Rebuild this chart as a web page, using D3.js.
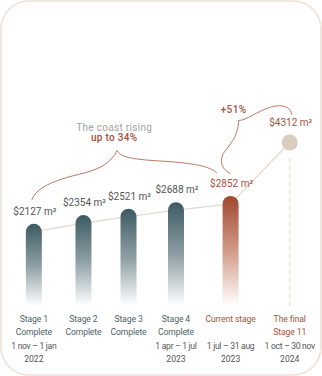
<!DOCTYPE html>
<html>
<head>
<meta charset="utf-8">
<script src="https://cdn.jsdelivr.net/npm/d3@7"></script>
<style>
  html, body { margin: 0; padding: 0; background: #fff; }
  svg { display: block; font-family: Roboto, "Noto Sans", sans-serif; }
</style>
</head>
<body>
<svg id="chart" width="322" height="376"></svg>
<script>
// Price per square metre at each sales stage
const titles  = ["Stage 1", "Stage 2", "Stage 3", "Stage 4", "Current stage", "The final"];
const subs    = ["Complete", "Complete", "Complete", "Complete", "", "Stage 11"];
const periods = ["1 nov – 1 jan", "", "", "1 apr – 1 jul", "1 jul – 31 aug", "1 oct – 30 nov"];
const years   = ["2022", "", "", "2023", "2023", "2024"];
const prices  = [2127, 2354, 2521, 2688, 2852, 4312];
const currentIndex = 4;   // stage on sale now
const forecastIndex = 5;  // projected final stage
const growthNote = ["The coast rising", "up to 34%"];
const forecastNote = "+51%";

const W = 322, H = 376;
const slate = "#4b6168", rust = "#a5513c", grey = "#555555";

const svg = d3.select("#chart");
const defs = svg.append("defs");

// card
svg.append("rect")
  .attr("x", 1).attr("y", 1).attr("width", W - 2).attr("height", H - 2)
  .attr("rx", 28).attr("ry", 28)
  .attr("fill", "#fff").attr("stroke", "#ece2d7").attr("stroke-width", 1.6);

// bar gradients
function gradient(id, top, mid) {
  const g = defs.append("linearGradient").attr("id", id)
    .attr("x1", 0).attr("y1", 0).attr("x2", 0).attr("y2", 1);
  g.append("stop").attr("offset", "0%").attr("stop-color", top);
  g.append("stop").attr("offset", "50%").attr("stop-color", mid);
  g.append("stop").attr("offset", "100%").attr("stop-color", "#ffffff");
}
gradient("gSlate", "#3e5a62", "#8b9ea3");
gradient("gRust", "#a0482f", "#d29a88");

// ---- column layout: each stage column is as wide as its text, spread across the card
const baseY = 306;          // zero line of the value scale
const rowY0 = baseY + 16, rowGap = 13.4;
const colLeft = 11, colRight = 315;

const cols = svg.append("g").attr("class", "stage-labels");
const colGroups = cols.selectAll("g").data(titles).join("g");

colGroups.each(function (t, i) {
  const g = d3.select(this);
  const special = i >= currentIndex;
  const rows = [
    { text: t, fill: special ? rust : slate, ls: -0.1 },
    { text: subs[i], fill: i === forecastIndex ? rust : slate, ls: -0.1 },
    { text: periods[i], fill: grey, ls: -0.3 },
    { text: years[i], fill: grey, ls: 0 }
  ];
  rows.forEach((r, k) => {
    if (!r.text) return;
    g.append("text")
      .attr("x", 0).attr("y", rowY0 + k * rowGap)
      .attr("text-anchor", "middle")
      .attr("font-size", 8.6)
      .attr("letter-spacing", r.ls)
      .attr("fill", r.fill)
      .text(r.text);
  });
});

const widths = [];
colGroups.each(function () { widths.push(this.getBBox().width); });
const gap = (colRight - colLeft - d3.sum(widths)) / (widths.length - 1);
const centers = [];
let cursor = colLeft;
widths.forEach(w => { centers.push(cursor + w / 2); cursor += w + gap; });
colGroups.attr("transform", (d, i) => `translate(${centers[i]},0)`);

const x = d3.scaleOrdinal().domain(titles).range(centers);
const y = d3.scaleLinear().domain([0, d3.max(prices)]).range([baseY, 139.5]);

const barW = 16, dotR = 8;
const barIdx = d3.range(forecastIndex);
const markY = i => i === forecastIndex ? y(prices[i]) + 3 : y(prices[i]) + barW / 2;
const markTop = i => i === forecastIndex ? markY(i) - dotR : y(prices[i]);

// connecting line
svg.append("path")
  .datum(d3.range(prices.length))
  .attr("fill", "none").attr("stroke", "#e3d8ce").attr("stroke-width", 1.2)
  .attr("d", d3.line().x(i => x(titles[i])).y(i => markY(i)));

// projection guide below the forecast point
svg.append("line")
  .attr("x1", x(titles[forecastIndex])).attr("x2", x(titles[forecastIndex]))
  .attr("y1", markY(forecastIndex) + dotR + 8).attr("y2", y(0))
  .attr("stroke", "#ecd2c7").attr("stroke-width", 1.1)
  .attr("stroke-dasharray", "4,4");

// bars
svg.append("g").selectAll("path").data(barIdx).join("path")
  .attr("fill", i => i === currentIndex ? "url(#gRust)" : "url(#gSlate)")
  .attr("d", i => {
    const cx = x(titles[i]), top = y(prices[i]), r = barW / 2;
    const p = d3.path();
    p.moveTo(cx - r, y(0));
    p.lineTo(cx - r, top + r);
    p.arc(cx, top + r, r, Math.PI, 0);
    p.lineTo(cx + r, y(0));
    p.closePath();
    return p.toString();
  });

// forecast point
svg.append("circle")
  .attr("cx", x(titles[forecastIndex])).attr("cy", markY(forecastIndex))
  .attr("r", dotR).attr("fill", "#d9cdc1");

// value labels
const labelY = i => markTop(i) - 9;
svg.append("g").selectAll("text").data(d3.range(prices.length)).join("text")
  .attr("x", i => x(titles[i]) + 1).attr("y", labelY)
  .attr("text-anchor", "middle").attr("font-size", 10)
  .attr("fill", i => i >= currentIndex ? rust : grey)
  .text(i => `$${prices[i]} m²`);

// brace over the completed stages
const S = [x(titles[0]) - 2, labelY(0) - 15];
const E = [x(titles[currentIndex]) - 13.5, labelY(currentIndex) - 13.5];
const P = [S[0] + 0.45 * (E[0] - S[0]) + 2, E[1] - 23];
const b1 = d3.path();
b1.moveTo(S[0], S[1]);
b1.bezierCurveTo(S[0] + 4, S[1] - 11, S[0] + 18, S[1] - 19, S[0] + 53, S[1] - 27);
b1.bezierCurveTo(P[0] - 16, P[1] + 18, P[0] - 6, P[1] + 12, P[0], P[1]);
b1.bezierCurveTo(P[0] + 3, P[1] + 7, P[0] + 14, P[1] + 9, P[0] + 49, P[1] + 11);
b1.bezierCurveTo(E[0] - 23, E[1] - 10, E[0] - 6, E[1] - 7, E[0], E[1]);
svg.append("path").attr("d", b1.toString())
  .attr("fill", "none").attr("stroke", "#b56a57").attr("stroke-width", 0.9);

svg.append("text").attr("x", P[0] - 3).attr("y", P[1] - 19.3)
  .attr("text-anchor", "middle").attr("font-size", 10).attr("fill", "#a3a3a3")
  .attr("letter-spacing", 0.3)
  .text(growthNote[0]);
svg.append("text").attr("x", P[0] - 3).attr("y", P[1] - 9)
  .attr("text-anchor", "middle").attr("font-size", 10).attr("font-weight", 500)
  .attr("fill", rust).attr("letter-spacing", 0.3)
  .text(growthNote[1]);

// brace from the current stage to the forecast
const B = [x(titles[currentIndex]), labelY(currentIndex) - 13.5];
const F = [x(titles[forecastIndex]) + 2, labelY(forecastIndex) - 11];
const Q = [B[0] + 8, F[1] + 6];
const b2 = d3.path();
b2.moveTo(B[0], B[1]);
b2.bezierCurveTo(B[0] - 10, B[1] - 4, B[0] - 12, B[1] - 15, B[0] - 5, B[1] - 23);
b2.bezierCurveTo(Q[0] - 6, Q[1] + 21, Q[0], Q[1] + 13, Q[0], Q[1]);
b2.bezierCurveTo(Q[0] + 8, Q[1], Q[0] + 18, Q[1] - 9, Q[0] + 31, Q[1] - 13);
b2.bezierCurveTo(F[0] - 10, F[1] - 11, F[0] - 1, F[1] - 8, F[0], F[1]);
svg.append("path").attr("d", b2.toString())
  .attr("fill", "none").attr("stroke", "#b56a57").attr("stroke-width", 0.9);

svg.append("text").attr("x", Q[0] - 5).attr("y", Q[1] - 8)
  .attr("text-anchor", "middle").attr("font-size", 10).attr("font-weight", 500)
  .attr("fill", rust).attr("letter-spacing", 0.4)
  .text(forecastNote);
</script>
</body>
</html>
